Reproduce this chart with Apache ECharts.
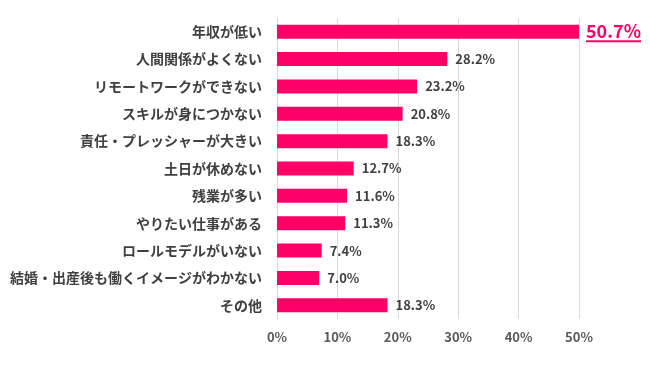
<!DOCTYPE html>
<html><head><meta charset="utf-8">
<script src="https://cdn.jsdelivr.net/npm/echarts@6/dist/echarts.min.js"></script>
<style>html,body{margin:0;padding:0;background:#fff}#c{width:650px;height:372px}</style>
</head><body><div id="c"></div>
<script>
const categories = ['年収が低い','人間関係がよくない','リモートワークができない','スキルが身につかない','責任・プレッシャーが大きい','土日が休めない','残業が多い','やりたい仕事がある','ロールモデルがいない','結婚・出産後も働くイメージがわかない','その他'];
const values = [50.7,28.2,23.2,20.8,18.3,12.7,11.6,11.3,7.4,7.0,18.3];
const highlightIndex = 0;
const BAR = '#FF0066';
const FONT = '"Noto Sans CJK JP", "Noto Sans", sans-serif';

const chart = echarts.init(document.getElementById('c'));
chart.setOption({
  animation: false,
  grid: {left: 277, right: 71, top: 18, bottom: 53, containLabel: false},
  xAxis: {
    type: 'value', min: 0, max: 50, interval: 10,
    axisLine: {show: false}, axisTick: {show: false},
    splitLine: {lineStyle: {color: '#D9D9D9', width: 1}},
    axisLabel: {formatter: '{value}%', color: '#595959', fontSize: 13, fontWeight: 'bold', fontFamily: FONT, margin: 12}
  },
  yAxis: {
    type: 'category', data: categories, inverse: true,
    axisLine: {show: true, lineStyle: {color: '#D9D9D9'}}, axisTick: {show: false},
    axisLabel: {color: '#404040', fontSize: 14, fontWeight: 'bold', fontFamily: FONT, margin: 15}
  },
  series: [{
    type: 'bar', data: values.map((v, i) => ({
      value: v,
      label: i === highlightIndex ? {
        formatter: '{a|' + v.toFixed(1) + '%}\n{u|}',
        offset: [-1, 0],
        rich: {
          a: {color: BAR, fontSize: 18, fontWeight: 'bold', fontFamily: FONT, lineHeight: 19},
          u: {backgroundColor: BAR, width: 55, height: 2, lineHeight: 2}
        }
      } : undefined
    })),
    barWidth: 14, clip: true,
    itemStyle: {color: BAR},
    label: {show: true, position: 'right', distance: 8, formatter: p => p.value.toFixed(1) + '%',
      color: '#404040', fontSize: 13, fontWeight: 'bold', fontFamily: FONT}
  }]
});
</script></body></html>
